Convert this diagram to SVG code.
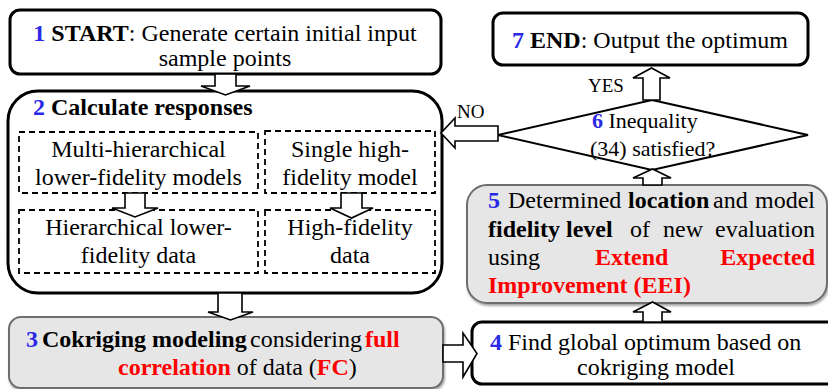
<svg xmlns="http://www.w3.org/2000/svg" width="828" height="389" viewBox="0 0 828 389" font-family="'Liberation Serif', 'Times New Roman', Times, 'DejaVu Serif', serif">
<style>
text{font-family:'Liberation Serif','Times New Roman',Times,'DejaVu Serif',serif;font-size:24px;fill:#000}
.b{font-weight:bold}
.bl{fill:#2a2ae6;font-weight:bold}
.rd{fill:#ff0000;font-weight:bold}
.box{fill:#fff;stroke:#000;stroke-width:3}
.gbox{fill:#e6e6e6;stroke:#6e6e6e;stroke-width:2}
.dash{fill:none;stroke:#000;stroke-width:1.8;stroke-dasharray:6 4}
.arr{fill:#fff;stroke:#000;stroke-width:1.6;stroke-linejoin:miter}
.lbl{font-size:19px}
.sm{font-size:22px}
.m{text-anchor:middle}
.e{text-anchor:end}
</style>
<defs>
<filter id="sh" x="-5%" y="-5%" width="110%" height="115%">
<feDropShadow dx="1" dy="2" stdDeviation="1.2" flood-color="#000" flood-opacity="0.35"/>
</filter>
</defs>

<g id="n1">
<rect class="box" x="10" y="10" width="431" height="64" rx="10"/>
<text x="225" y="41" class="m"><tspan class="bl">1</tspan> <tspan class="b">START</tspan>: Generate certain initial input</text>
<text x="225" y="66" class="m">sample points</text>
</g>

<g id="n2">
<rect class="box" x="8" y="91" width="434" height="202" rx="30"/>
<text x="33" y="115" class="b"><tspan class="bl">2</tspan> Calculate responses</text>
</g>

<g id="n2a">
<rect class="dash" x="19" y="132" width="239" height="61"/>
<text x="138.5" y="157" class="m">Multi-hierarchical</text>
<text x="138.5" y="185" class="m">lower-fidelity models</text>
</g>
<g id="n2b">
<rect class="dash" x="265" y="131" width="170" height="62"/>
<text x="350" y="157" class="m">Single high-</text>
<text x="350" y="185" class="m">fidelity model</text>
</g>
<g id="n2c">
<rect class="dash" x="19" y="210" width="239" height="63"/>
<text x="138.5" y="235" class="m">Hierarchical lower-</text>
<text x="138.5" y="263" class="m">fidelity data</text>
</g>
<g id="n2d">
<rect class="dash" x="265" y="210" width="170" height="63"/>
<text x="350" y="235" class="m">High-fidelity</text>
<text x="350" y="263" class="m">data</text>
</g>

<g id="n3">
<rect class="gbox" x="9" y="317" width="434" height="71" rx="12" filter="url(#sh)"/>
<text x="26" y="347"><tspan class="bl">3</tspan><tspan x="42" class="b">Cokriging modeling</tspan><tspan x="250">considering</tspan><tspan x="365" class="rd">full</tspan></text>
<text x="118" y="375"><tspan class="rd">correlation</tspan> of data (<tspan class="rd">FC</tspan>)</text>
</g>

<g id="n4">
<rect class="box" x="472" y="322" width="370" height="62" rx="10"/>
<text x="490" y="350"><tspan class="bl">4</tspan> Find global optimum based on</text>
<text x="656" y="375" class="m">cokriging model</text>
</g>

<g id="n5">
<rect class="gbox" x="467" y="185" width="360" height="118" rx="20" filter="url(#sh)"/>
<text x="488" y="208" class="bl">5</text>
<text x="508" y="208">Determined</text>
<text x="628" y="208" class="b">location</text>
<text x="713" y="208">and</text>
<text x="815" y="208" class="e">model</text>
<text x="488" y="237" class="b">fidelity level</text>
<text x="630" y="237">of</text>
<text x="663" y="237">new</text>
<text x="815" y="237" class="e">evaluation</text>
<text x="488" y="265">using</text>
<text x="595" y="265" class="rd">Extend</text>
<text x="815" y="265" class="rd e">Expected</text>
<text x="488" y="293" class="rd">Improvement (EEI)</text>
</g>

<g id="n6">
<polygon points="652,100 808,135 652,170 498,135" fill="#fff" stroke="#000" stroke-width="2"/>
<text x="592" y="128" class="sm"><tspan class="bl">6</tspan> Inequality</text>
<text x="590" y="156" class="sm">(34) satisfied?</text>
</g>

<g id="n7">
<rect class="box" x="493" y="13" width="315" height="52" rx="10"/>
<text x="512" y="48"><tspan class="bl">7</tspan> <tspan class="b">END</tspan>: Output the optimum</text>
</g>

<g id="connectors">
<polygon class="arr" points="215,74 236,74 236,86 250,86 225.5,95 201,86 215,86"/>
<polygon class="arr" points="125,193 145,193 145,208 158,208 135,217 112,208 125,208"/>
<polygon class="arr" points="341,193 362,193 362,208 373,208 351.5,218 330,208 341,208"/>
<polygon class="arr" points="218,293 242,293 242,312 253,312 230.5,320 208,312 218,312"/>
<polygon class="arr" points="443,345 463,345 463,333 477,353.5 463,377 463,362 443,362"/>
<polygon class="arr" points="643,322 643,312 633,312 652.5,302 671,312 662,312 662,322"/>
<polygon class="arr" points="643,185 643,178 633,178 652.5,169 671,178 662,178 662,185"/>
<polygon class="arr" points="643,100 643,78 633,78 651.5,68 670,78 660,78 660,100"/>
<polygon class="arr" points="498,126 455,126 455,118 441,133 455,148 455,141 498,141"/>
<text x="588" y="92" class="lbl">YES</text>
<text x="457" y="118" class="lbl">NO</text>
</g>
</svg>
